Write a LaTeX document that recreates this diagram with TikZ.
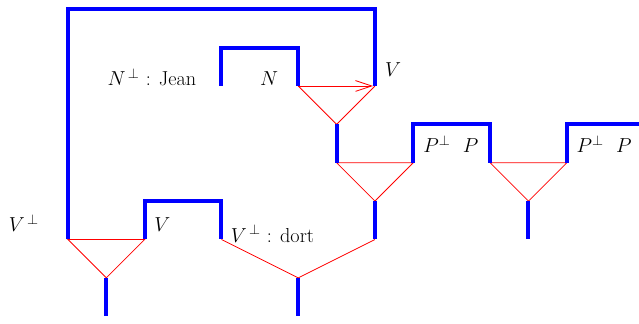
\documentclass[tikz,border=0pt]{standalone}
\usepackage{fix-cm}
\usepackage{tikz}
\usetikzlibrary{arrows.meta, positioning}
\tikzset{
  % Axiom and cut wires
  wire/.style={draw=blue, line width=3pt},
  % Tensor and par links
  link/.style={draw=red, line width=0.6pt},
  linkpointer/.style={link, -{Straight Barb[length=12pt, width=8pt]}, shorten >=1.5pt},
  % Formula labels
  formula/.style={anchor=base, inner sep=0pt, font=\fontsize{15}{18}\selectfont},
}

\begin{document}
\begin{tikzpicture}

      \useasboundingbox (-1.77,-0.18) rectangle (14.88,8.24);

      % Define link points
      \coordinate (vl) at (0,2);
      \coordinate (vr) at (8,6);
      \coordinate (np) at (4,6);
      \coordinate (n) at (6,6);
      \coordinate (t1) at (7,5);
      \coordinate (t1out) at (7,4);
      \coordinate (t2r) at (9,4);
      \coordinate (t2) at (8,3);
      \coordinate (t2out) at (8,2);
      \coordinate (pp1) at (11,4);
      \coordinate (p1) at (13,4);
      \coordinate (t3) at (12,3);
      \coordinate (t3out) at (12,2);
      \coordinate (pend) at (14.88,5);
      \coordinate (v) at (2,2);
      \coordinate (vd) at (4,2);
      \coordinate (t4) at (1,1);
      \coordinate (t4out) at (1,0);
      \coordinate (cut) at (6,1);
      \coordinate (cutout) at (6,0);

      % Links
      \draw[linkpointer] (n) -- (vr);
      \draw[link] (n) -- (t1) -- (vr);
      \draw[link] (t1out) -- (t2r) -- (t2) -- cycle;
      \draw[link] (pp1) -- (p1) -- (t3) -- cycle;
      \draw[link] (vl) -- (v) -- (t4) -- cycle;
      \draw[link] (vd) -- (cut) -- (t2out);

      % Wires
      \draw[wire] (vl) |- (8,8) -- (vr);
      \draw[wire] (np) -- ++(0,1) -| (n);
      \draw[wire] (t1) -- (t1out);
      \draw[wire] (t2r) -- ++(0,1) -| (pp1);
      \draw[wire] (t2) -- (t2out);
      \draw[wire] (t3) -- (t3out);
      \draw[wire] (p1) |- (pend);
      \draw[wire] (v) -- ++(0,1) -| (vd);
      \draw[wire] (t4) -- (t4out);
      \draw[wire] (cut) -- (cutout);

      % Labels
      \node[formula] (jean) at (2.19,6) {$N^{\,\perp}$ : Jean};
      \node[formula] (nlab) at (5.24,6) {$N$};
      \node[formula] (vlab) at (8.47,6.25) {$V$};
      \node[formula] (plab) at (9.98,4.27) {$P^{\perp}$\ \ $P$};
      \node[formula] (plabb) at (13.97,4.27) {$P^{\perp}$\ \ $P$};
      \node[formula] (vplab) at (-1.15,2.21) {$V^{\,\perp}$};
      \node[formula] (vlabb) at (2.46,2.21) {$V$};
      \node[formula] (dort) at (5.33,1.93) {$V^{\,\perp}$ : dort};

    \end{tikzpicture}
\end{document}
